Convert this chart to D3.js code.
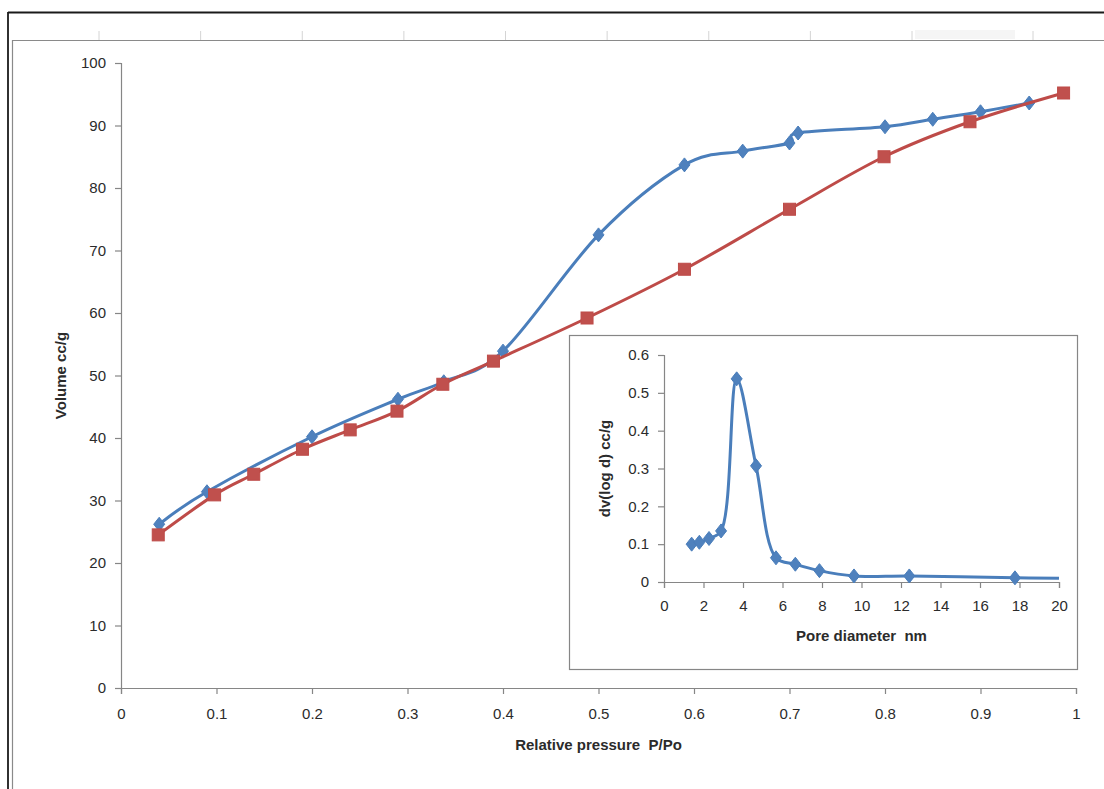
<!DOCTYPE html>
<html>
<head>
<meta charset="utf-8">
<script src="https://cdn.jsdelivr.net/npm/d3@7"></script>
<style>
  html, body { margin: 0; padding: 0; background: #fff; }
  svg { display: block; }
  text { font-family: "Liberation Sans", Arial, sans-serif; }
</style>
</head>
<body>
<svg id="chart" width="1104" height="789"></svg>
<script>
// ---------------- Data ----------------
// Main chart: isotherm (blue = desorption-like branch with hysteresis, red = other branch)
const pressureBlue = [0.04, 0.09, 0.20, 0.29, 0.338, 0.40, 0.50, 0.59, 0.651, 0.70, 0.709, 0.80, 0.85, 0.90, 0.951];
const volumeBlue   = [26.2, 31.4, 40.2, 46.2, 49.0, 53.9, 72.5, 83.7, 85.9, 87.2, 88.8, 89.8, 91.0, 92.2, 93.6];

const pressureRed  = [0.039, 0.098, 0.139, 0.19, 0.24, 0.289, 0.337, 0.39, 0.488, 0.59, 0.70, 0.799, 0.889, 0.987];
const volumeRed    = [24.5, 30.9, 34.2, 38.2, 41.3, 44.3, 48.6, 52.3, 59.2, 67.0, 76.6, 85.0, 90.6, 95.2];

const mainXTicks = [0, 0.1, 0.2, 0.3, 0.4, 0.5, 0.6, 0.7, 0.8, 0.9, 1];
const mainYTicks = [0, 10, 20, 30, 40, 50, 60, 70, 80, 90, 100];

// Inset: pore size distribution
const poreDiameter = [1.40, 1.79, 2.28, 2.89, 3.68, 4.66, 5.67, 6.65, 7.87, 9.62, 12.42, 17.77, 20.0];
const poreDv       = [0.100, 0.105, 0.115, 0.135, 0.537, 0.307, 0.064, 0.047, 0.030, 0.016, 0.016, 0.011, 0.010];

const insetXTicks = [0, 2, 4, 6, 8, 10, 12, 14, 16, 18, 20];
const insetYTicks = [0, 0.1, 0.2, 0.3, 0.4, 0.5, 0.6];

const mainXTitle = "Relative pressure  P/Po";
const mainYTitle = "Volume cc/g";
const insetXTitle = "Pore diameter  nm";
const insetYTitle = "dv(log d) cc/g";

// ---------------- Styles ----------------
const BLUE_LINE = "#4A7EBB", BLUE_FILL = "#4F81BD";
const RED_LINE = "#BE4B48", RED_FILL = "#C0504D";
const AXIS = "#868686";
const TEXT = "#2b2b2b";

const svg = d3.select("#chart");

// ---------------- Frame (outer document border) ----------------
svg.append("line").attr("x1", 8).attr("x2", 1104).attr("y1", 12.5).attr("y2", 12.5)
  .attr("stroke", "#1a1a1a").attr("stroke-width", 1.8);
svg.append("line").attr("x1", 8).attr("x2", 8).attr("y1", 12).attr("y2", 789)
  .attr("stroke", "#1a1a1a").attr("stroke-width", 1.8);
svg.append("line").attr("x1", 12).attr("x2", 1104).attr("y1", 40.5).attr("y2", 40.5)
  .attr("stroke", "#8a8a8a").attr("stroke-width", 1.2);
svg.append("line").attr("x1", 12.5).attr("x2", 12.5).attr("y1", 40).attr("y2", 789)
  .attr("stroke", "#8a8a8a").attr("stroke-width", 1.2);

// faint ghost ticks of a chart above
const ghost = d3.scaleLinear().domain([0, 8]).range([99, 912]);
svg.append("g").selectAll("line").data(d3.range(9)).join("line")
  .attr("x1", d => ghost(d)).attr("x2", d => ghost(d))
  .attr("y1", 31).attr("y2", 40).attr("stroke", "#d4d4d4").attr("stroke-width", 1);
svg.append("line").attr("x1", 1033).attr("x2", 1033).attr("y1", 31).attr("y2", 40)
  .attr("stroke", "#d4d4d4");
svg.append("rect").attr("x", 915).attr("y", 30).attr("width", 100).attr("height", 9)
  .attr("fill", "#f5f5f5");

// ---------------- Main chart ----------------
const x = d3.scaleLinear().domain([0, 1]).range([121, 1076]);
const y = d3.scaleLinear().domain([0, 100]).range([688, 63]);

const xAxis = svg.append("g").attr("transform", "translate(0,688)")
  .call(d3.axisBottom(x).tickValues(mainXTicks).tickSize(6).tickPadding(14)
    .tickFormat(d => d === 0 || d === 1 ? String(d) : d3.format(".1f")(d)));
const yAxis = svg.append("g").attr("transform", "translate(121,0)")
  .call(d3.axisLeft(y).tickValues(mainYTicks).tickSize(6).tickPadding(9));

[xAxis, yAxis].forEach(g => {
  g.select(".domain").attr("stroke", AXIS).attr("stroke-width", 1.2);
  g.selectAll(".tick line").attr("stroke", AXIS).attr("stroke-width", 1.2);
  g.selectAll(".tick text").attr("fill", TEXT).style("font-size", "15px")
    .style("font-family", "'Liberation Sans', Arial, sans-serif");
});

svg.append("text").attr("x", (x(0) + x(1)) / 2).attr("y", 750)
  .attr("text-anchor", "middle").attr("fill", TEXT).style("white-space", "pre")
  .style("font-size", "15px").style("font-weight", "bold").text(mainXTitle);
svg.append("text").attr("transform", `translate(66,${(y(0) + y(100)) / 2}) rotate(-90)`)
  .attr("text-anchor", "middle").attr("fill", TEXT)
  .style("font-size", "15px").style("font-weight", "bold").text(mainYTitle);

const smooth = d3.curveCardinal.tension(0);

function diamondPath(cx, cy, hw, hh) {
  return `M${cx},${cy - hh}L${cx + hw},${cy}L${cx},${cy + hh}L${cx - hw},${cy}Z`;
}

const blueData = pressureBlue.map((p, i) => [p, volumeBlue[i]]);
const redData = pressureRed.map((p, i) => [p, volumeRed[i]]);

const mainLine = d3.line().x(d => x(d[0])).y(d => y(d[1])).curve(smooth);

svg.append("path").datum(blueData).attr("d", mainLine)
  .attr("fill", "none").attr("stroke", BLUE_LINE).attr("stroke-width", 3);
svg.append("g").selectAll("path").data(blueData).join("path")
  .attr("d", d => diamondPath(x(d[0]), y(d[1]), 5.5, 7))
  .attr("fill", BLUE_FILL).attr("stroke", BLUE_LINE).attr("stroke-width", 1);

svg.append("path").datum(redData).attr("d", mainLine)
  .attr("fill", "none").attr("stroke", RED_LINE).attr("stroke-width", 3);
svg.append("g").selectAll("rect").data(redData).join("rect")
  .attr("x", d => x(d[0]) - 6).attr("y", d => y(d[1]) - 6)
  .attr("width", 12).attr("height", 12)
  .attr("fill", RED_FILL).attr("stroke", RED_LINE).attr("stroke-width", 1);

// ---------------- Inset ----------------
svg.append("rect").attr("x", 569.5).attr("y", 335.5).attr("width", 508).attr("height", 334)
  .attr("fill", "#fff").attr("stroke", AXIS).attr("stroke-width", 1.2);

const ix = d3.scaleLinear().domain([0, 20]).range([664, 1059]);
const iy = d3.scaleLinear().domain([0, 0.6]).range([582, 355]);

const ixAxis = svg.append("g").attr("transform", "translate(0,582)")
  .call(d3.axisBottom(ix).tickValues(insetXTicks).tickSize(6).tickPadding(12).tickFormat(d3.format("d")));
const iyAxis = svg.append("g").attr("transform", "translate(664,0)")
  .call(d3.axisLeft(iy).tickValues(insetYTicks).tickSize(6).tickPadding(9)
    .tickFormat(d => d === 0 ? "0" : d3.format(".1f")(d)));

[ixAxis, iyAxis].forEach(g => {
  g.select(".domain").attr("stroke", AXIS).attr("stroke-width", 1.2);
  g.selectAll(".tick line").attr("stroke", AXIS).attr("stroke-width", 1.2);
  g.selectAll(".tick text").attr("fill", TEXT).style("font-size", "15px")
    .style("font-family", "'Liberation Sans', Arial, sans-serif");
});

svg.append("text").attr("x", (ix(0) + ix(20)) / 2).attr("y", 641)
  .attr("text-anchor", "middle").attr("fill", TEXT).style("white-space", "pre")
  .style("font-size", "15px").style("font-weight", "bold").text(insetXTitle);
svg.append("text").attr("transform", `translate(610,${iy(0.3)}) rotate(-90)`)
  .attr("text-anchor", "middle").attr("fill", TEXT)
  .style("font-size", "15px").style("font-weight", "bold").text(insetYTitle);

const insetData = poreDiameter.map((d, i) => [d, poreDv[i]]);
const insetLine = d3.line().x(d => ix(d[0])).y(d => iy(d[1])).curve(d3.curveCatmullRom.alpha(0.5));

svg.append("path").datum(insetData).attr("d", insetLine)
  .attr("fill", "none").attr("stroke", BLUE_LINE).attr("stroke-width", 3);
svg.append("g").selectAll("path").data(insetData.filter(d => d[0] < ix.domain()[1])).join("path")
  .attr("d", d => diamondPath(ix(d[0]), iy(d[1]), 5.5, 7))
  .attr("fill", BLUE_FILL).attr("stroke", BLUE_LINE).attr("stroke-width", 1);
</script>
</body>
</html>
